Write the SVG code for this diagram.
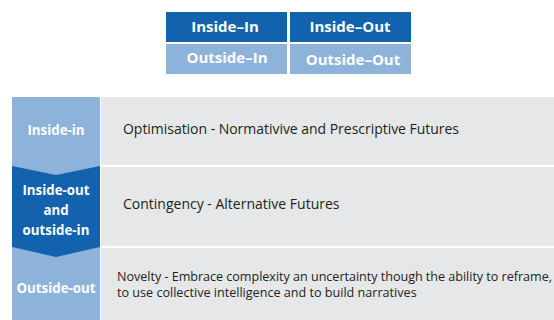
<svg xmlns="http://www.w3.org/2000/svg" width="554" height="320" viewBox="0 0 554 320">
<style>
.dark{fill:#1262ad}
.light{fill:#8db3da}
.gray{fill:#e6e7e8}
.hd{font-family:"Open Sans","Noto Sans",sans-serif;font-weight:bold;fill:#ffffff;text-anchor:middle;font-size:15px}
.lbl{font-family:"Open Sans","Noto Sans",sans-serif;font-weight:bold;fill:#ffffff;text-anchor:middle;font-size:13.3px}
.body{font-family:"Open Sans","Noto Sans",sans-serif;fill:#231f20}
</style>
<rect width="554" height="320" fill="#ffffff"/>
<g id="legend">
  <g id="inside-in-cell"><rect class="dark" x="166" y="12" width="121" height="30"/><text class="hd" x="225" y="32">Inside–In</text></g>
  <g id="inside-out-cell"><rect class="dark" x="290" y="12" width="121" height="30"/><text class="hd" x="350" y="32">Inside–Out</text></g>
  <g id="outside-in-cell"><rect class="light" x="166" y="44" width="121" height="30"/><text class="hd" x="227" y="63">Outside–In</text></g>
  <g id="outside-out-cell"><rect class="light" x="290" y="44" width="121" height="30"/><text class="hd" x="353" y="65">Outside–Out</text></g>
</g>
<g id="row-outside-out">
  <rect class="gray" x="101" y="248" width="453" height="72"/>
  <rect class="light" x="12" y="240" width="88" height="80"/>
  <text class="lbl" x="56" y="293">Outside-out</text>
  <text class="body" x="117" y="281" font-size="12.6" textLength="435">Novelty - Embrace complexity an uncertainty though the ability to reframe,</text>
  <text class="body" x="117" y="297" font-size="12.6">to use collective intelligence and to build narratives</text>
</g>
<g id="row-inside-out-outside-in">
  <rect class="gray" x="101" y="167" width="453" height="79"/>
  <polygon class="dark" points="12,160 100,160 100,247 56,257 12,247"/>
  <text class="lbl" x="56" y="195">Inside-out</text>
  <text class="lbl" x="56" y="215">and</text>
  <text class="lbl" x="56" y="235">outside-in</text>
  <text class="body" x="123" y="209" font-size="14">Contingency - Alternative Futures</text>
</g>
<g id="row-inside-in">
  <rect class="gray" x="101" y="97" width="453" height="68"/>
  <polygon class="light" points="12,97 100,97 100,166 56,175 12,166"/>
  <text class="lbl" x="56" y="135">Inside-in</text>
  <text class="body" x="123" y="134" font-size="14" textLength="336">Optimisation - Normativive and Prescriptive Futures</text>
</g>
</svg>
